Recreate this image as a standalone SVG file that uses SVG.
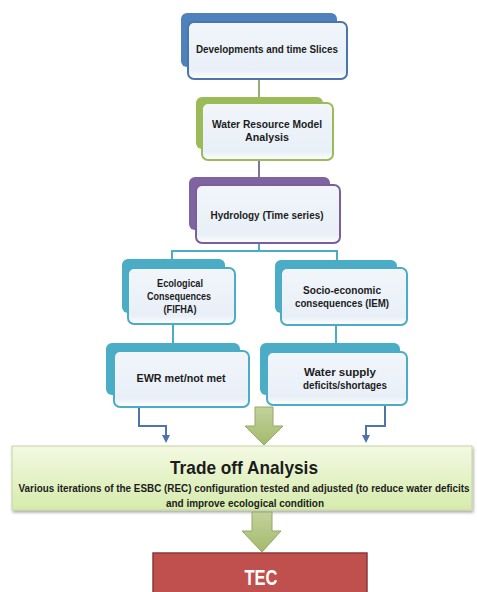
<svg xmlns="http://www.w3.org/2000/svg" width="477" height="592" viewBox="0 0 477 592">
<defs>
<linearGradient id="frontG" x1="0" y1="0" x2="0" y2="1">
<stop offset="0" stop-color="#f2f6fb"/><stop offset="0.85" stop-color="#e8eff7"/><stop offset="1" stop-color="#ffffff"/>
</linearGradient>
<linearGradient id="tradeG" x1="0" y1="0" x2="0" y2="1">
<stop offset="0" stop-color="#f3f9e2"/><stop offset="1" stop-color="#d6ebac"/>
</linearGradient>
<linearGradient id="arrG" x1="0" y1="0" x2="0" y2="1">
<stop offset="0" stop-color="#c3d29c"/><stop offset="1" stop-color="#a4ba6c"/>
</linearGradient>
<marker id="ah" viewBox="0 0 10 10" refX="5" refY="5" markerWidth="4" markerHeight="4" orient="auto">
<path d="M0,0 L10,5 L0,10 z" fill="#4f73ad"/>
</marker>
<filter id="sh" x="-5%" y="-10%" width="110%" height="130%">
<feDropShadow dx="1" dy="2" stdDeviation="1.5" flood-color="#000" flood-opacity="0.35"/>
</filter>
</defs>
<style>
text{font-family:"Liberation Sans",Arial,sans-serif;font-weight:bold;fill:#1c1c1c;text-anchor:middle;}
.t{font-size:11px;}
.front{fill:url(#frontG);stroke-width:2;}
.conn{fill:none;stroke-width:2;}
</style>
<rect width="477" height="592" fill="#ffffff"/>

<g id="connectors">
<path class="conn" d="M259,79 V98" stroke="#9aab78"/>
<path class="conn" d="M259,160 V178" stroke="#7f7499"/>
<path class="conn" d="M259,243 V251 M172,251 H337 M172,250 V260 M337,250 V261" stroke="#4bacc6"/>
<path class="conn" d="M173,325 V344" stroke="#4bacc6"/>
<path class="conn" d="M336,325 V344" stroke="#4bacc6"/>
<path class="conn" d="M139,407 V426 H166 V439" stroke="#4f73ad" marker-end="url(#ah)"/>
<path class="conn" d="M385,405 V426 H366 V439" stroke="#4f73ad" marker-end="url(#ah)"/>
</g>

<g id="n1">
<rect x="181" y="13" width="156" height="54" rx="6" fill="#4f81bd"/>
<rect class="front" x="188" y="22" width="159" height="57" rx="6" stroke="#4a76aa"/>
<text class="t" x="267" y="53" textLength="142" lengthAdjust="spacingAndGlyphs">Developments and time Slices</text>
</g>

<g id="n2">
<rect x="196" y="97" width="127" height="52" rx="6" fill="#9bbb59"/>
<rect class="front" x="202" y="103" width="131" height="57" rx="6" stroke="#9bbb59"/>
<text class="t" x="267" y="128" textLength="110" lengthAdjust="spacingAndGlyphs">Water Resource Model</text>
<text class="t" x="267" y="141" textLength="44" lengthAdjust="spacingAndGlyphs">Analysis</text>
</g>

<g id="n3">
<rect x="189" y="177" width="141" height="53" rx="6" fill="#8064a2"/>
<rect class="front" x="196" y="185" width="144" height="58" rx="6" stroke="#7a5f9c"/>
<text class="t" x="267" y="219" textLength="113" lengthAdjust="spacingAndGlyphs">Hydrology (Time series)</text>
</g>

<g id="n4">
<rect x="122" y="259" width="103" height="54" rx="6" fill="#4bacc6"/>
<rect class="front" x="128" y="268" width="107" height="56" rx="6" stroke="#4bacc6"/>
<text class="t" x="180" y="287" textLength="46" lengthAdjust="spacingAndGlyphs">Ecological</text>
<text class="t" x="179" y="300" textLength="64" lengthAdjust="spacingAndGlyphs">Consequences</text>
<text class="t" x="180" y="313" textLength="33" lengthAdjust="spacingAndGlyphs">(FIFHA)</text>
</g>

<g id="n5">
<rect x="275" y="260" width="122" height="53" rx="6" fill="#4bacc6"/>
<rect class="front" x="281" y="268" width="126" height="57" rx="6" stroke="#4bacc6"/>
<text class="t" x="342" y="294" textLength="78" lengthAdjust="spacingAndGlyphs">Socio-economic</text>
<text class="t" x="342" y="307" textLength="94" lengthAdjust="spacingAndGlyphs">consequences (IEM)</text>
</g>

<g id="n6">
<rect x="106" y="343" width="134" height="52" rx="6" fill="#4bacc6"/>
<rect class="front" x="114" y="351" width="135" height="56" rx="6" stroke="#4bacc6"/>
<text class="t" x="181" y="382" textLength="89" lengthAdjust="spacingAndGlyphs">EWR met/not met</text>
</g>

<g id="n7">
<rect x="260" y="343" width="140" height="52" rx="6" fill="#4bacc6"/>
<rect class="front" x="267" y="352" width="140" height="53" rx="6" stroke="#4bacc6"/>
<text class="t" x="340" y="376" textLength="72" lengthAdjust="spacingAndGlyphs">Water supply</text>
<text class="t" x="345" y="389" textLength="84" lengthAdjust="spacingAndGlyphs">deficits/shortages</text>
</g>

<g id="n8">
<rect x="12" y="446" width="460" height="64" fill="url(#tradeG)" stroke="#c5d6a0" stroke-width="1" filter="url(#sh)"/>
<text x="244" y="474" font-size="19" textLength="148" lengthAdjust="spacingAndGlyphs">Trade off Analysis</text>
<text x="244" y="492" font-size="10" textLength="451" lengthAdjust="spacingAndGlyphs">Various iterations of the ESBC (REC) configuration tested and adjusted (to reduce water deficits</text>
<text x="245" y="507" font-size="10" textLength="158" lengthAdjust="spacingAndGlyphs">and improve ecological condition</text>
</g>

<g id="arrow1">
<polygon points="255,407 273,407 273,426 283,426 264,445 245,426 255,426" fill="url(#arrG)" stroke="#93a866" stroke-width="1"/>
</g>
<g id="arrow2">
<polygon points="252,512 272,512 272,531 281,531 262,552 242,531 252,531" fill="url(#arrG)" stroke="#93a866" stroke-width="1"/>
</g>

<g id="n9">
<rect x="153" y="553" width="214" height="45" fill="#c0504d" stroke="#8c3836" stroke-width="1.5"/>
<text x="261" y="585" font-size="22" style="fill:#ffffff" textLength="33" lengthAdjust="spacingAndGlyphs">TEC</text>
</g>
</svg>
